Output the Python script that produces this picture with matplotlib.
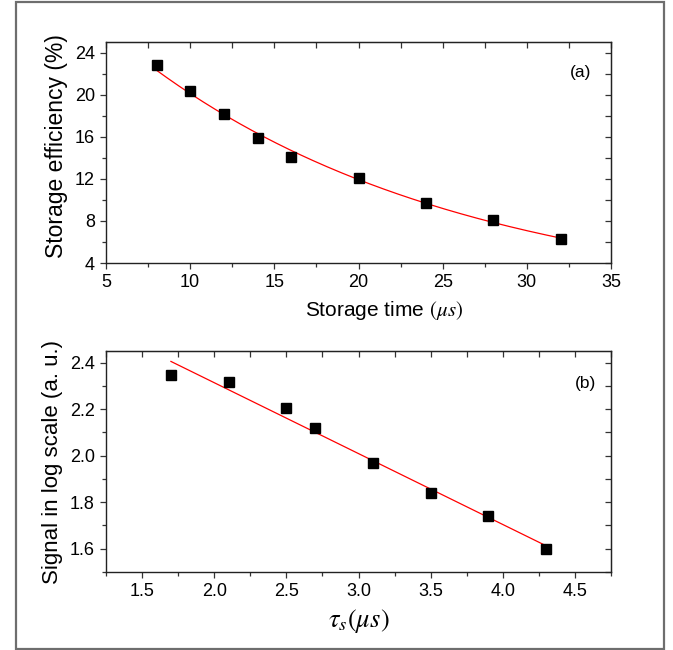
import numpy as np
import matplotlib
matplotlib.use("Agg")
import matplotlib.pyplot as plt
from matplotlib.patches import Rectangle
from matplotlib.ticker import MultipleLocator, FormatStrFormatter

plt.rcParams['font.family'] = ['Liberation Sans', 'DejaVu Sans']
plt.rcParams['mathtext.fontset'] = 'stix'

# panel (a): storage efficiency vs storage time
storage_time = [8, 10, 12, 14, 16, 20, 24, 28, 32]
efficiency = [22.8, 20.3, 18.2, 15.9, 14.1, 12.1, 9.7, 8.05, 6.3]

# panel (b): signal in log scale vs tau_s
tau_s = [1.7, 2.1, 2.5, 2.7, 3.1, 3.5, 3.9, 4.3]
log_signal = [2.345, 2.315, 2.205, 2.12, 1.97, 1.838, 1.74, 1.60]


def style_axes(ax):
    for s in ax.spines.values():
        s.set_linewidth(1.0)
        s.set_color('#222222')
    ax.tick_params(which='both', direction='out', top=False, right=False,
                   labelsize=13, color='#333333', width=0.9)
    ax.tick_params(which='major', length=4.5)
    ax.tick_params(which='minor', length=3)
    # inward ticks on top and right, no labels
    top = ax.secondary_xaxis('top')
    top.xaxis.set_major_locator(ax.xaxis.get_major_locator())
    top.xaxis.set_minor_locator(ax.xaxis.get_minor_locator())
    top.tick_params(which='both', direction='in', length=4, width=0.9,
                    color='#333333', labeltop=False)
    right = ax.secondary_yaxis('right')
    right.yaxis.set_major_locator(ax.yaxis.get_major_locator())
    right.yaxis.set_minor_locator(ax.yaxis.get_minor_locator())
    right.tick_params(which='both', direction='in', length=4, width=0.9,
                      color='#333333', labelright=False)
    top.spines['top'].set_color('#222222')
    right.spines['right'].set_color('#222222')


fig = plt.figure(figsize=(6.73, 6.5), dpi=100)

# outer frame
fig.patches.append(Rectangle((16 / 673, 1 / 650), 648 / 673, 647 / 650,
                             transform=fig.transFigure, fill=False,
                             edgecolor='#6e6e6e', linewidth=1.6))

# top panel
ax1 = fig.add_axes([106 / 673, 1 - 263 / 650, 505 / 673, 221 / 650])
t = np.array(storage_time, dtype=float)
e = np.array(efficiency)
k, b = np.polyfit(t, np.log(e), 1)
tt = np.linspace(t.min(), t.max(), 200)
ax1.plot(tt, np.exp(b + k * tt), color='red', lw=0.9, zorder=2)
ax1.plot(t, e, 's', color='black', ms=6.5, zorder=3)
ax1.set_xlim(5, 35)
ax1.set_ylim(4, 25)
ax1.xaxis.set_major_locator(MultipleLocator(5))
ax1.xaxis.set_minor_locator(MultipleLocator(2.5))
ax1.yaxis.set_major_locator(MultipleLocator(4))
ax1.yaxis.set_minor_locator(MultipleLocator(2))
style_axes(ax1)
ax1.set_xlabel(r'Storage time $(\mu s)$', fontsize=15, labelpad=6)
ax1.xaxis.label.set_x(0.55)
ax1.set_ylabel('Storage efficiency (%)', fontsize=16.5, labelpad=5)
ax1.yaxis.label.set_y(0.53)
ax1.text(0.94, 0.86, '(a)', transform=ax1.transAxes, fontsize=12.5,
         ha='center', va='center')

# bottom panel
ax2 = fig.add_axes([106 / 673, 1 - 572 / 650, 505 / 673, 221 / 650])
x2 = np.array(tau_s)
y2 = np.array(log_signal)
m, c = np.polyfit(x2, y2, 1)
ax2.plot(x2[[0, -1]], m * x2[[0, -1]] + c, color='red', lw=0.9, zorder=2)
ax2.plot(x2, y2, 's', color='black', ms=6.5, zorder=3)
ax2.set_xlim(1.25, 4.75)
ax2.set_ylim(1.5, 2.45)
ax2.xaxis.set_major_locator(MultipleLocator(0.5))
ax2.xaxis.set_minor_locator(MultipleLocator(0.25))
ax2.yaxis.set_major_locator(MultipleLocator(0.2))
ax2.yaxis.set_minor_locator(MultipleLocator(0.1))
ax2.xaxis.set_major_formatter(FormatStrFormatter('%.1f'))
ax2.yaxis.set_major_formatter(FormatStrFormatter('%.1f'))
style_axes(ax2)
ax2.set_xlabel(r'$\tau_s(\mu s)$', fontsize=19, labelpad=5)
ax2.set_ylabel('Signal in log scale (a. u.)', fontsize=16, labelpad=5)
ax2.text(0.95, 0.855, '(b)', transform=ax2.transAxes, fontsize=12.5,
         ha='center', va='center')

fig.savefig('out.png', dpi=100)
